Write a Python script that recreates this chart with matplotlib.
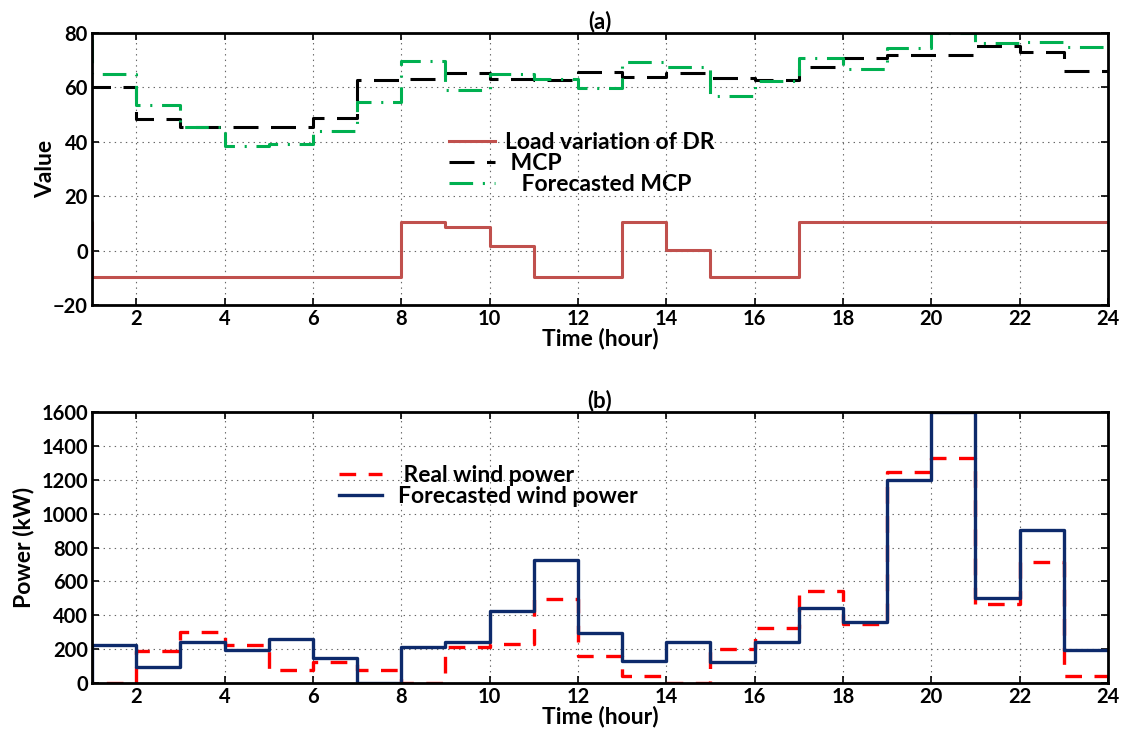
import matplotlib
matplotlib.use("Agg")
import matplotlib.pyplot as plt

# hour 0 is outside the view, it only gives the step at hour 1
hours = list(range(0, 25))

dr_load = [10.4, -9.6, -9.6, -9.6, -9.6, -9.6, -9.6, -9.6, 10.4, 8.8, 1.7, -9.6, -9.6,
	10.4, 0.2, -9.6, -9.6, 10.4, 10.4, 10.4, 10.4, 10.4, 10.4, 10.4, 10.4]
mcp = [60, 60, 48.3, 45.6, 45.6, 45.6, 48.7, 62.7, 63.2, 65.2, 63.1, 62.8, 65.5,
	63.9, 65.2, 63.4, 62.9, 67.4, 70.8, 72.0, 72.0, 75.3, 73.1, 66.1, 66.1]
mcp_fc = [78, 64.9, 53.6, 45.6, 38.3, 39.1, 44.0, 54.6, 69.8, 59.0, 64.9, 63.1, 59.6,
	69.2, 67.4, 56.7, 62.5, 70.8, 66.7, 74.5, 80.0, 76.3, 76.6, 75.0, 75.0]

wind_real = [0, 0, 186, 304, 225, 78, 124, 78, 0, 212, 230, 498, 157,
	39, 0, 200, 327, 545, 349, 1246, 1329, 467, 716, 39, 39]
wind_fc = [0, 225, 92, 241, 192, 261, 147, 0, 212, 241, 426, 726, 294,
	131, 241, 124, 245, 445, 363, 1196, 1600, 504, 903, 196, 196]

xticks = list(range(2, 25, 2))
yticks_a = list(range(-20, 81, 20))
yticks_b = list(range(0, 1601, 200))

plt.rcParams['font.family'] = ['Lato', 'DejaVu Sans']
plt.rcParams['font.weight'] = 'bold'
plt.rcParams['lines.scale_dashes'] = False


def styleAxes(ax):
	for s in ax.spines.values():
		s.set_linewidth(2)
	ax.tick_params(direction='in', length=5, width=1.2, top=True, right=True,
		labelsize=14.5, pad=3)
	for lab in ax.get_xticklabels() + ax.get_yticklabels():
		lab.set_fontweight('bold')
	ax.grid(True, linestyle=(0, (1, 3)), color='#666666', linewidth=0.8)
	ax.set_xlim(1, 24)
	ax.set_xticks(xticks)
	ax.set_xlabel("Time (hour)", fontsize=16.5, fontweight='bold', labelpad=-1)


def main():
	fig = plt.figure(figsize=(11.28, 7.42), dpi=100)
	ax1 = fig.add_axes([92/1128, 1 - 305/742, 1016/1128, 272/742])
	ax2 = fig.add_axes([92/1128, 1 - 683/742, 1016/1128, 271/742])

	ax1.step(hours, dr_load, where='post', color='#C0504D', lw=2.2, label="Load variation of DR")
	ax1.step(hours, mcp, where='post', color='black', lw=2.2, linestyle=(0, (18, 9)), label=" MCP")
	ax1.step(hours, mcp_fc, where='post', color='#00B050', lw=2.2,
		linestyle=(0, (17, 7, 1.5, 7)), label="   Forecasted MCP")
	ax1.set_ylim(-20, 80)
	ax1.set_yticks(yticks_a)
	styleAxes(ax1)
	ax1.set_ylabel("Value", fontsize=16.5, fontweight='bold', labelpad=-2)
	ax1.set_title("(a)", fontsize=16, fontweight='bold', pad=3)
	ax1.legend(loc='upper left', bbox_to_anchor=(0.34, 0.677), frameon=False, fontsize=16.5,
		handlelength=2.0, handletextpad=0.45, labelspacing=0.0, borderpad=0)

	ax2.step(hours, wind_real, where='post', color='#FF0000', lw=2.4, linestyle=(0, (12, 9)),
		label=" Real wind power")
	ax2.step(hours, wind_fc, where='post', color='#0D2A6B', lw=2.4, label="Forecasted wind power")
	ax2.set_ylim(0, 1600)
	ax2.set_yticks(yticks_b)
	styleAxes(ax2)
	ax2.set_ylabel("Power (kW)", fontsize=16.5, fontweight='bold', labelpad=5)
	ax2.set_title("(b)", fontsize=16, fontweight='bold', pad=3)
	ax2.legend(loc='upper left', bbox_to_anchor=(0.232, 0.846), frameon=False, fontsize=16.5,
		handlelength=1.85, handletextpad=0.7, labelspacing=0.0, borderpad=0)

	plt.savefig('out.png', dpi=100)


if __name__ == '__main__':
	main()
